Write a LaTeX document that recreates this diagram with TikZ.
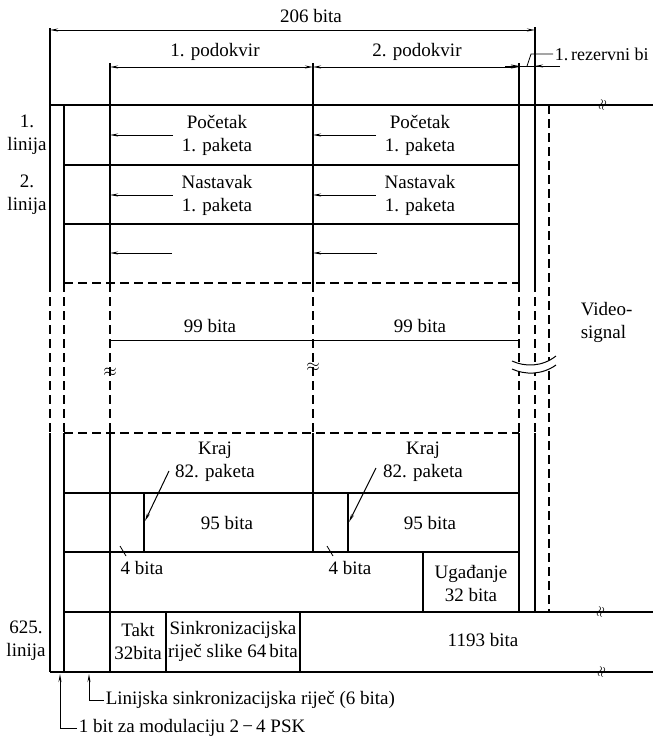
\documentclass[tikz,border=0pt]{standalone}
\usepackage{fontspec}
\setmainfont{Liberation Serif}
\usetikzlibrary{arrows.meta}
\newcommand{\framefont}{\fontsize{19}{23}\selectfont}
\newcommand{\breakfont}{\fontsize{18}{18}\selectfont}

\begin{document}
\begin{tikzpicture}[x=1pt,y=-1pt,font=\framefont,line width=1.5pt,
  txt/.style={align=center,inner sep=0pt},
  dimline/.style={{Stealth[length=8pt,width=3pt]}-{Stealth[length=8pt,width=3pt]},line width=1pt},
  ptr/.style={-{Stealth[length=8pt,width=3pt]},line width=1pt},
  brk/.style={dash pattern=on 9pt off 5pt},
  breakmark/.style={inner sep=0pt,font=\breakfont}]
\useasboundingbox (0,0) rectangle (653,748);
\coordinate (c2) at (110,0);
\coordinate (c3) at (313,0);

% frame columns
\draw (50,28) -- (50,283);
\draw[brk] (50,283) -- (50,433);
\draw (50,433) -- (50,672);
\draw (64,105) -- (64,283);
\draw[brk] (64,283) -- (64,433);
\draw (64,433) -- (64,672);
\draw (110,63) -- (110,283);
\draw[brk] (110,283) -- (110,433);
\draw (110,433) -- (110,672);
\draw (313,63) -- (313,283);
\draw[brk] (313,283) -- (313,433);
\draw (313,433) -- (313,552);
\draw (519,63) -- (519,283);
\draw[brk] (519,283) -- (519,433);
\draw (519,433) -- (519,612);
\draw (535,27) -- (535,283);
\draw[brk] (535,283) -- (535,433);
\draw (535,433) -- (535,612);
\draw[brk] (549,105) -- (549,612);

% frame rows
\draw (50,105) -- (653,105);
\draw (64,165) -- (519,165);
\draw (64,224) -- (519,224);
\draw[brk] (64,283) -- (519,283);
\draw[brk] (64,433) -- (519,433);
\draw (64,493) -- (519,493);
\draw (64,552) -- (519,552);
\draw (64,612) -- (653,612);
\draw (50,672) -- (653,672);
\draw (144,493) -- (144,552);
\draw (348,493) -- (348,552);
\draw (423,552) -- (423,612);
\draw (166,612) -- (166,672);
\draw (300,612) -- (300,672);

% break marks
\node[breakmark,rotate=75,font=\fontsize{15}{15}\selectfont] (bk1) at (603,105) {$\approx$};
\node[breakmark,rotate=75,font=\fontsize{15}{15}\selectfont] (bk2) at (601,612) {$\approx$};
\node[breakmark,rotate=75,font=\fontsize{15}{15}\selectfont] (bk3) at (602,672) {$\approx$};
\node[breakmark] (bk4) at (110,372) {$\approx$};
\node[breakmark] (bk5) at (313,367) {$\approx$};
\fill[white] (512,361) .. controls (525,367) and (542,367) .. (556,356)
  -- (556,365) .. controls (542,375) and (525,375) .. (512,369) -- cycle;
\draw[line width=1pt] (512,361) .. controls (525,367) and (542,367) .. (556,356);
\draw[line width=1pt] (512,369) .. controls (525,375) and (542,375) .. (556,365);

% dimensions
\draw[dimline] (50,30) -- (535,30);
\node (b206) at (311,16) {206 bita};
\draw[dimline] (110,67) -- (313,67);
\draw[dimline] (313,67) -- (519,67);
\node (pod1) at (215,52) {1. podokvir};
\node (pod2) at (417,52) {2. podokvir};
\draw[line width=1pt] (505,66) -- (560,66);
\coordinate (rl) at (505,66);
\coordinate (rr) at (560,66);
\draw[ptr] (rl) -- (519,66);
\draw[ptr] (rr) -- (535,66);
\node[anchor=west,inner sep=1pt,font=\fontsize{18}{22}\selectfont] (rez) at (553,54) {1.\,rezervni bi};
\draw[line width=0.8pt] (527,66) -- (531,54) -- (rez.west);
\draw[line width=1pt] (110,340) -- (519,340);
\node (b99a) at (210,326) {99 bita};
\node (b99b) at (420,326) {99 bita};

% line labels
\node[txt] (l1) at (27,135) {1.\\linija};
\node[txt] (l2) at (27,195) {2.\\linija};
\node[txt] (l625) at (26,641) {625.\\linija};

% packet cells
\node[txt] (p1a) at (217,135) {Početak\\1. paketa};
\node[txt] (p1b) at (420,135) {Početak\\1. paketa};
\node[txt] (n1a) at (217,195) {Nastavak\\1. paketa};
\node[txt] (n1b) at (420,195) {Nastavak\\1. paketa};
\coordinate (e1a) at (172,253);
\coordinate (e1b) at (377,253);
\draw[ptr] ([xshift=-8pt]p1a.west) -- (p1a.west -| c2);
\draw[ptr] ([xshift=-8pt]p1b.west) -- (p1b.west -| c3);
\draw[ptr] ([xshift=-8pt]n1a.west) -- (n1a.west -| c2);
\draw[ptr] ([xshift=-8pt]n1b.west) -- (n1b.west -| c3);
\draw[ptr] (e1a) -- (e1a -| c2);
\draw[ptr] (e1b) -- (e1b -| c3);
\node[txt,align=left,anchor=west] (vid) at (580,322) {Video-\\signal};

\node[txt] (k82a) at (215,462) {Kraj\\82. paketa};
\node[txt] (k82b) at (423,462) {Kraj\\82. paketa};
\coordinate (t82a) at (145,521);
\coordinate (t82b) at (349,522);
\draw[ptr] (169,471) -- (t82a);
\draw[ptr] (376,468) -- (t82b);
\node (b95a) at (227,523) {95 bita};
\node (b95b) at (430,523) {95 bita};
\node (b4a) at (142,568) {4 bita};
\node (b4b) at (350,568) {4 bita};
\draw[line width=0.8pt] (120,546) -- (126,556);
\draw[line width=0.8pt] (327,546) -- (333,556);
\node[txt] (uga) at (471,583) {Ugađanje\\32 bita};
\node[txt] (takt) at (138,641) {Takt\\32bita};
\node[txt] (sink) at (233,641) {Sinkronizacijska\\riječ slike 64\,bita};
\node (b1193) at (483,640) {1193 bita};

% bottom notes
\node[anchor=west,inner sep=1pt] (lsr) at (104,700) {Linijska sinkronizacijska riječ (6 bita)};
\node[anchor=west,inner sep=1pt] (psk) at (77,728) {1 bit za modulaciju 2\,−\,4 PSK};
\coordinate (lsrcol) at (89,674);
\coordinate (pskcol) at (60,674);
\draw[ptr] (lsr.west) -| (lsrcol);
\draw[ptr] (psk.west) -| (pskcol);
\end{tikzpicture}
\end{document}
